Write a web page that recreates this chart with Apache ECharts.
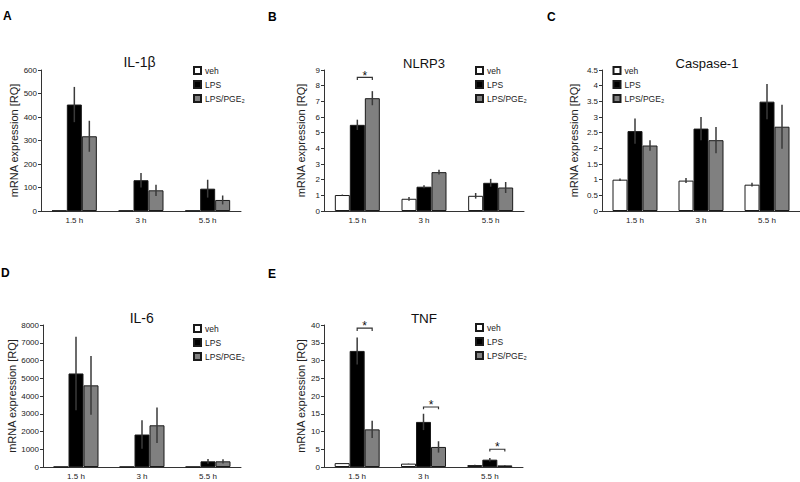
<!DOCTYPE html>
<html><head><meta charset="utf-8">
<script src="https://cdn.jsdelivr.net/npm/echarts@6/dist/echarts.min.js"></script>
<style>html,body{margin:0;padding:0;background:#fff}#c{width:800px;height:482px}</style>
</head><body><div id="c"></div><script>
const categories = ['1.5 h', '3 h', '5.5 h'];
const seriesNames = ['veh', 'LPS', 'LPS/PGE₂'];

// A: IL-1β
const il1bVeh = [1.5, 1.5, 1.5];
const il1bVehErr = [0, 0, 0];
const il1bLps = [453, 131, 95];
const il1bLpsErr = [75, 31, 38];
const il1bPge = [318, 88, 47];
const il1bPgeErr = [66, 24, 19];
const il1bAxisMax = 600, il1bAxisStep = 100;

// B: NLRP3
const nlrp3Veh = [1.02, 0.78, 0.97];
const nlrp3VehErr = [0.03, 0.12, 0.18];
const nlrp3Lps = [5.5, 1.55, 1.8];
const nlrp3LpsErr = [0.33, 0.1, 0.25];
const nlrp3Pge = [7.2, 2.48, 1.5];
const nlrp3PgeErr = [0.45, 0.15, 0.35];
const nlrp3AxisMax = 9, nlrp3AxisStep = 1;
// significance: [category, bracket level, bracket end level, star level]
const nlrp3Sig = [[0, 8.53, 8.36, 8.83]];

// C: Caspase-1
const casp1Veh = [1.0, 0.97, 0.84];
const casp1VehErr = [0.04, 0.08, 0.06];
const casp1Lps = [2.55, 2.63, 3.49];
const casp1LpsErr = [0.4, 0.37, 0.56];
const casp1Pge = [2.09, 2.26, 2.69];
const casp1PgeErr = [0.17, 0.42, 0.7];
const casp1AxisMax = 4.5, casp1AxisStep = 0.5;

// D: IL-6
const il6Veh = [10, 10, 10];
const il6VehErr = [0, 0, 0];
const il6Lps = [5270, 1830, 320];
const il6LpsErr = [2070, 800, 130];
const il6Pge = [4600, 2350, 320];
const il6PgeErr = [1650, 1000, 120];
const il6AxisMax = 8000, il6AxisStep = 1000;

// E: TNF
const tnfVeh = [1.1, 0.95, 0.55];
const tnfVehErr = [0.05, 0.05, 0.05];
const tnfLps = [32.7, 12.7, 2.07];
const tnfLpsErr = [3.8, 2.3, 0.5];
const tnfPge = [10.6, 5.65, 0.45];
const tnfPgeErr = [2.4, 1.6, 0.1];
const tnfAxisMax = 40, tnfAxisStep = 5;
const tnfSig = [[0, 39.1, 38.3, 40.5], [1, 16.9, 16.3, 18.3], [2, 5.0, 4.4, 6.4]];

const FONT = '"Liberation Sans", Arial, Helvetica, sans-serif';
const BAR_W = 15;
const colors = ['#ffffff', '#000000', '#808080'];

const panels = [
  {letter: 'A', title: 'IL-1β', vals: [il1bVeh, il1bLps, il1bPge], errs: [il1bVehErr, il1bLpsErr, il1bPgeErr],
   max: il1bAxisMax, step: il1bAxisStep, sig: null,
   grid: {left: 41, top: 70, width: 200, height: 141}, nameGap: 17,
   titlePos: [139.5, 62], titleSize: 14, letterPos: [3, 16], legendPos: [193, 66]},
  {letter: 'B', title: 'NLRP3', vals: [nlrp3Veh, nlrp3Lps, nlrp3Pge], errs: [nlrp3VehErr, nlrp3LpsErr, nlrp3PgeErr],
   max: nlrp3AxisMax, step: nlrp3AxisStep, sig: nlrp3Sig,
   grid: {left: 324, top: 70, width: 200, height: 141}, nameGap: 18,
   titlePos: [424, 63], titleSize: 13, letterPos: [268, 17], legendPos: [475, 66]},
  {letter: 'C', title: 'Caspase-1', vals: [casp1Veh, casp1Lps, casp1Pge], errs: [casp1VehErr, casp1LpsErr, casp1PgeErr],
   max: casp1AxisMax, step: casp1AxisStep, sig: null,
   grid: {left: 602, top: 70, width: 198, height: 141}, nameGap: 23,
   titlePos: [707, 63], titleSize: 13, letterPos: [547, 17], legendPos: [612.5, 66]},
  {letter: 'D', title: 'IL-6', vals: [il6Veh, il6Lps, il6Pge], errs: [il6VehErr, il6LpsErr, il6PgeErr],
   max: il6AxisMax, step: il6AxisStep, sig: null,
   grid: {left: 43, top: 325, width: 198, height: 142}, nameGap: 18,
   titlePos: [141.7, 318], titleSize: 14, letterPos: [1, 272.5], legendPos: [193, 324]},
  {letter: 'E', title: 'TNF', vals: [tnfVeh, tnfLps, tnfPge], errs: [tnfVehErr, tnfLpsErr, tnfPgeErr],
   max: tnfAxisMax, step: tnfAxisStep, sig: tnfSig,
   grid: {left: 324, top: 325, width: 199, height: 142}, nameGap: 18,
   titlePos: [424, 318], titleSize: 13.5, letterPos: [268, 274], legendPos: [475, 323]}
];

const grids = [], xAxes = [], yAxes = [], series = [], legends = [], graphics = [];

panels.forEach((p, i) => {
  grids.push(Object.assign({containLabel: false}, p.grid));
  xAxes.push({
    type: 'category', gridIndex: i, data: categories,
    axisLine: {lineStyle: {color: '#333', width: 1}},
    axisTick: {show: false},
    axisLabel: {fontSize: 8, color: '#222', fontFamily: FONT, margin: 5}
  });
  yAxes.push({
    type: 'value', gridIndex: i, min: 0, max: p.max, interval: p.step,
    name: 'mRNA expression [RQ]', nameLocation: 'middle', nameGap: p.nameGap,
    nameTextStyle: {fontSize: 11, color: '#222', fontFamily: FONT},
    axisLine: {show: true, lineStyle: {color: '#333', width: 1}},
    axisTick: {show: true, length: 3, lineStyle: {color: '#333'}},
    axisLabel: {fontSize: 8, color: '#222', fontFamily: FONT, margin: 4,
                formatter: (v) => String(Math.round(v * 100) / 100)},
    splitLine: {show: false}
  });
  for (let j = 0; j < 3; j++) {
    series.push({
      type: 'bar', name: seriesNames[j], xAxisIndex: i, yAxisIndex: i,
      data: p.vals[j], barWidth: BAR_W, barGap: '0%',
      itemStyle: {color: colors[j], borderColor: '#1a1a1a', borderWidth: 1},
      emphasis: {disabled: true}, z: 2
    });
  }
  const errData = [];
  for (let j = 0; j < 3; j++) {
    for (let c = 0; c < categories.length; c++) {
      errData.push([c, p.vals[j][c], p.errs[j][c], j - 1]);
    }
  }
  series.push({
    type: 'custom', xAxisIndex: i, yAxisIndex: i, data: errData, z: 5, silent: true,
    encode: {x: 0, y: 1},
    renderItem: (params, api) => {
      const c = api.value(0), v = api.value(1), e = api.value(2), k = api.value(3);
      if (!e) return null;
      const t = api.coord([c, v + e]);
      const b = api.coord([c, Math.max(0, v - e)]);
      const x = t[0] + k * BAR_W;
      return {type: 'line', shape: {x1: x, y1: t[1], x2: x, y2: b[1]},
              style: {stroke: '#3a3a3a', lineWidth: 1.5}};
    }
  });
  if (p.sig) {
    series.push({
      type: 'custom', xAxisIndex: i, yAxisIndex: i, data: p.sig, z: 6, silent: true, clip: false,
      encode: {x: 0, y: 1},
      renderItem: (params, api) => {
        const c = api.value(0);
        const line = api.coord([c, api.value(1)]);
        const end = api.coord([c, api.value(2)]);
        const star = api.coord([c, api.value(3)]);
        const xl = line[0], xr = line[0] + BAR_W;
        return {type: 'group', children: [
          {type: 'polyline', shape: {points: [[xl, end[1]], [xl, line[1]], [xr, line[1]], [xr, end[1]]]},
           style: {stroke: '#333', lineWidth: 1.2, fill: null}},
          {type: 'text', x: (xl + xr) / 2, y: star[1] + 3,
           style: {text: '*', fontSize: 12, fontFamily: FONT, fill: '#111', align: 'center', verticalAlign: 'middle'}}
        ]};
      }
    });
  }
  legends.push({
    orient: 'vertical', left: p.legendPos[0], top: p.legendPos[1], padding: 0,
    data: seriesNames, icon: 'rect', itemWidth: 7, itemHeight: 7, itemGap: 5,
    textStyle: {fontSize: 8.5, color: '#222', fontFamily: FONT, padding: [0, 0, 0, -1]},
    selectedMode: false
  });
  graphics.push({type: 'text', x: p.titlePos[0], y: p.titlePos[1],
    style: {text: p.title, fontSize: p.titleSize, fontFamily: FONT, fill: '#111', align: 'center', verticalAlign: 'middle'}});
  graphics.push({type: 'text', x: p.letterPos[0], y: p.letterPos[1],
    style: {text: p.letter, fontSize: 12, fontWeight: 'bold', fontFamily: FONT, fill: '#000', align: 'left', verticalAlign: 'middle'}});
});

const chart = echarts.init(document.getElementById('c'), null, {renderer: 'svg'});
chart.setOption({
  animation: false,
  backgroundColor: '#fff',
  grid: grids, xAxis: xAxes, yAxis: yAxes, series: series, legend: legends, graphic: graphics
});
</script></body></html>
